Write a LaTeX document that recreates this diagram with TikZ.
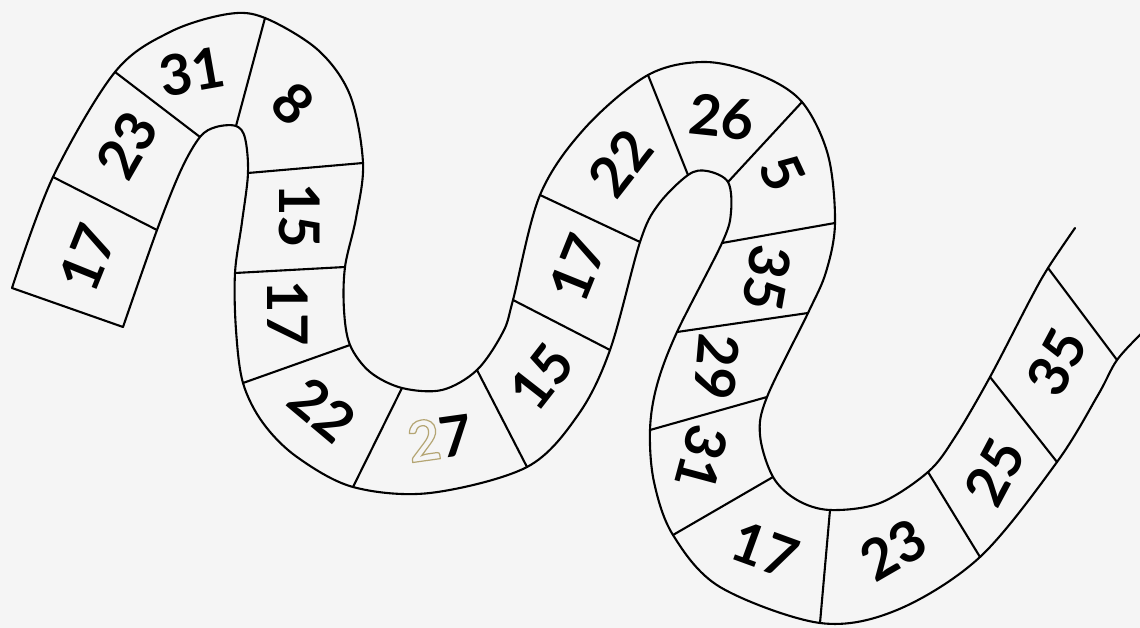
\documentclass[tikz,border=0pt]{standalone}
\usepackage{fontspec}
\setmainfont{Lato}
\definecolor{paper}{RGB}{245,245,245}
\definecolor{hollow}{RGB}{180,165,115}

\begin{document}
\begin{tikzpicture}[x=1pt, y=-1pt,
  edge/.style={draw=black, line width=2.1pt, line join=round, line cap=round},
  rail/.style={edge, smooth, tension=0.55},
  num/.style={font=\fontsize{56}{56}\selectfont\bfseries, inner sep=0pt}]
  \fill[paper] (0,0) rectangle (1140,628);
  \useasboundingbox (0,0) rectangle (1140,628);
  % corners of the cells, a = upper rail at the start, b = lower rail
  \foreach \i/\ax/\ay/\bx/\by in {0/12/288/123/327, 1/53/177/157/230, 2/115/72/200/137,
      3/265/18/236/126, 4/363/163/248/173, 5/345/267/235/273, 6/350/345/243/383,
      7/402/388/353/487, 8/477/370/527/467, 9/513/300/610/350, 10/540/195/640/242,
      11/648/75/688/175, 12/802/102/728/182, 13/835/223/722/243, 14/808/313/677/332,
      15/767/397/650/430, 16/773/477/673/535, 17/830/510/820/623, 18/928/472/980/557,
      19/990/377/1057/462, 20/1048/268/1117/360}
    {\coordinate (a\i) at (\ax,\ay); \coordinate (b\i) at (\bx,\by);}
  \coordinate (aE) at (1075,228);
  \coordinate (bE) at (1142,333);
  % the two rails
  \draw[rail] plot coordinates {(a0) (a1) (a2) (170,32) (228,14) (a3) (318,50) (350,95)
    (a4) (356,218) (a5) (344,310) (a6) (370,372) (a7) (442,390) (a8) (503,332) (a9)
    (a10) (585,128) (a11) (705,62) (760,75) (a12) (828,155) (a13) (826,272) (a14)
    (a15) (760,435) (a16) (797,500) (a17) (880,503) (a18) (955,437) (a19) (1030,300)
    (a20) (aE)};
  \draw[rail] plot coordinates {(b0) (b1) (181,170) (b2) (216,127) (b3) (245,138) (b4)
    (242,222) (b5) (236,330) (b6) (263,423) (297,457) (b7) (430,493) (b8) (578,415)
    (b9) (b10) (658,205) (b11) (707,171) (b12) (731,212) (b13) (b14) (657,385) (b15)
    (654,482) (b16) (720,587) (b17) (897,610) (b18) (b19) (1098,395) (b20) (bE)};
  % cell walls
  \foreach \i in {0,...,20}
    \draw[edge] (a\i) -- (b\i);
  % numbers
  \foreach \i/\x/\y/\r/\t in {1/88/258/68/17, 2/127/145/60/23, 3/192/72/10/31,
      4/293/104/-45/8, 5/300/216/-90/15, 6/288/313/-90/17, 7/323/410/-40/22,
      9/542/377/52/15, 10/578/268/68/17, 11/620/163/52/22, 12/722/117/-6/26,
      13/782/173/-65/5, 14/767/278/-100/35, 15/717/367/-95/29, 16/702/458/-105/31,
      17/765/550/-20/17, 18/893/550/30/23, 19/995/472/62/25, 20/1057/362/62/35}
    \node[num, rotate=\r] (n\i) at (\x,\y) {\t};
  \node[num, rotate=8] (n8) at (440,438)
    {{\color{hollow}\special{pdf:literal direct 1 Tr 1.2 w}2\special{pdf:literal direct 0 Tr}}7};
\end{tikzpicture}
\end{document}
